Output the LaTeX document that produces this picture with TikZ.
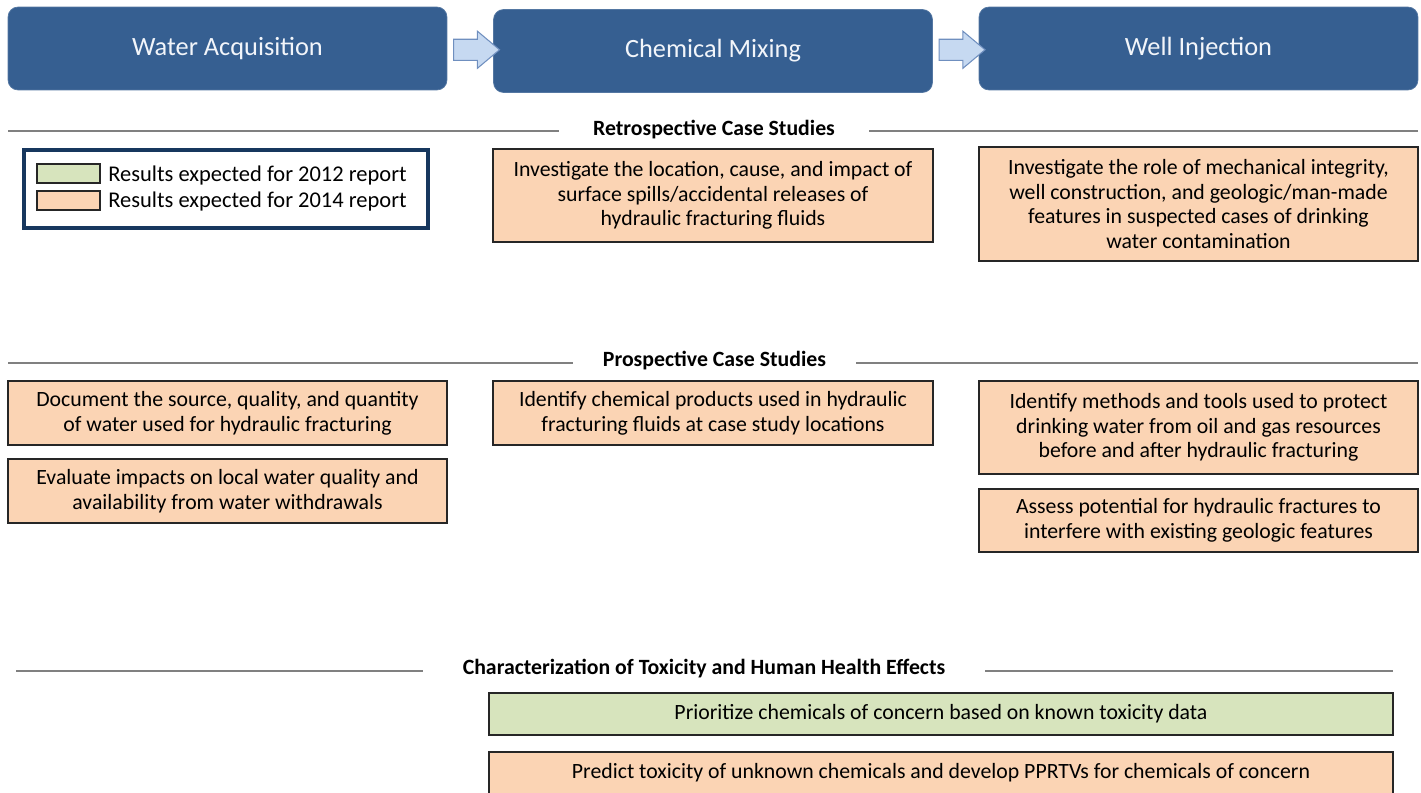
\documentclass[tikz,border=0pt]{standalone}
\usepackage{fontspec}
\setmainfont{Carlito}
\usetikzlibrary{shapes.arrows,calc}
\definecolor{stageblue}{HTML}{365F91}
\definecolor{stagetext}{HTML}{F2F5FA}
\definecolor{flowfill}{HTML}{C6D9F1}
\definecolor{flowline}{HTML}{6F8FBF}
\definecolor{early}{HTML}{D7E4BD}
\definecolor{late}{HTML}{FBD4B4}
\definecolor{boxline}{HTML}{262626}
\definecolor{rulegray}{HTML}{808080}
\definecolor{keyframe}{HTML}{17375E}
\begin{document}
\begin{tikzpicture}[x=0.02cm,y=-0.02cm,
  stage/.style={draw=stageblue!85!white,fill=stageblue,rounded corners=0.2cm,text=stagetext,
    font=\fontsize{15}{18}\selectfont,minimum width=8.78cm,minimum height=1.66cm},
  task/.style={draw=boxline,fill=late,line width=0.8pt,align=center,inner sep=0,
    font=\fontsize{12.4}{14.1}\selectfont,minimum width=8.78cm},
  soon/.style={task,fill=early},
  flow/.style={single arrow,draw=flowline,fill=flowfill,line width=0.6pt,inner sep=0,inner ysep=0.2cm,
    single arrow head extend=0.16cm,single arrow tip angle=80,minimum height=0.92cm},
  sect/.style={font=\fontsize{12.4}{14.1}\selectfont\bfseries},
  rule/.style={draw=rulegray,line width=1.2pt}]
\clip(0,0) rectangle (1421,792);
%
% stages of the water cycle
\node[stage](water) at (227.5,48.5){Water Acquisition};
\node[stage](chem) at (713,51){Chemical Mixing};
\node[stage](well) at (1198.5,48.5){Well Injection};
\node[flow](wc) at ($(water.east)!0.5!(chem.west)$){};
\node[flow](cw) at ($(chem.east)!0.5!(well.west)$){};
%
% legend
\node[draw=keyframe,line width=2.8pt,minimum width=8.08cm,minimum height=1.56cm](key) at (226,189){};
\node[draw=boxline,fill=early,line width=0.6pt,minimum width=1.26cm,minimum height=0.38cm](key12) at (68.5,173.5){};
\node[draw=boxline,fill=late,line width=0.6pt,minimum width=1.26cm,minimum height=0.38cm](key14) at (68.5,200.5){};
\node[anchor=west,font=\fontsize{12.8}{15}\selectfont,inner sep=0](key12t) at (108,175){Results expected for 2012 report};
\node[anchor=west,font=\fontsize{12.8}{15}\selectfont,inner sep=0](key14t) at (108,201){Results expected for 2014 report};
%
% retrospective case studies
\node[sect,inner xsep=0.68cm](retro) at (714,130){Retrospective Case Studies};
\coordinate(retroL) at (8,131);
\coordinate(retroR) at (1418,131);
\draw[rule](retroL)--(retroL-|retro.west);
\draw[rule](retroR)--(retroR-|retro.east);
\node[task,minimum width=8.8cm,minimum height=1.86cm](retchem) at (713,195.5){Investigate the location, cause, and impact of\\surface spills/accidental releases of\\hydraulic fracturing fluids};
\node[task,minimum height=2.28cm](retwell) at (1198.5,204){Investigate the role of mechanical integrity,\\well construction, and geologic/man-made\\features in suspected cases of drinking\\water contamination};
%
% prospective case studies
\node[sect,inner xsep=0.6cm](pros) at (714.5,361){Prospective Case Studies};
\coordinate(prosL) at (8,363);
\coordinate(prosR) at (1418,363);
\draw[rule](prosL)--(prosL-|pros.west);
\draw[rule](prosR)--(prosR-|pros.east);
\node[task,minimum height=1.28cm](proswater) at (227.5,413){Document the source, quality, and quantity\\of water used for hydraulic fracturing};
\node[task,minimum height=1.28cm](proswaterb) at (227.5,491){Evaluate impacts on local water quality and\\availability from water withdrawals};
\node[task,minimum width=8.8cm,minimum height=1.28cm](proschem) at (713,413){Identify chemical products used in hydraulic\\fracturing fluids at case study locations};
\node[task,minimum height=1.86cm](proswell) at (1198.5,427.5){Identify methods and tools used to protect\\drinking water from oil and gas resources\\before and after hydraulic fracturing};
\node[task,minimum height=1.26cm](proswellb) at (1198.5,520.5){Assess potential for hydraulic fractures to\\interfere with existing geologic features};
%
% toxicity and health effects
\node[sect,inner xsep=0.78cm](tox) at (704,669){Characterization of Toxicity and Human Health Effects};
\coordinate(toxL) at (16,671);
\coordinate(toxR) at (1393,671);
\draw[rule](toxL)--(toxL-|tox.west);
\draw[rule](toxR)--(toxR-|tox.east);
\node[soon,minimum width=18.08cm,minimum height=0.84cm](toxprio) at (941,714){Prioritize chemicals of concern based on known toxicity data};
\node[task,minimum width=18.08cm,minimum height=0.84cm](toxpred) at (941,773){Predict toxicity of unknown chemicals and develop PPRTVs for chemicals of concern};
\end{tikzpicture}
\end{document}
